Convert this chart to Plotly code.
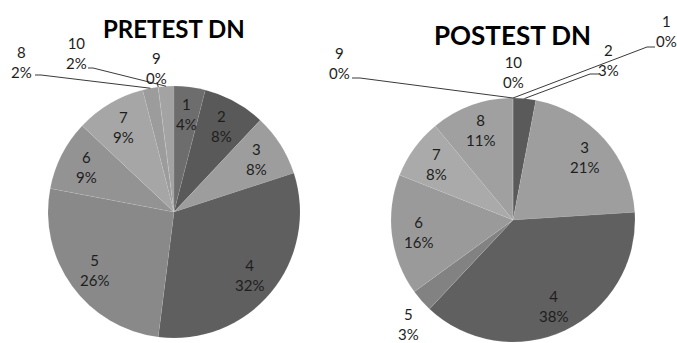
import math
import plotly.graph_objects as go

W, H = 677, 343

# Score categories and the share of students in each (percent)
categories = ["1", "2", "3", "4", "5", "6", "7", "8", "9", "10"]
pretest_pct = [4, 8, 8, 32, 26, 9, 9, 2, 0, 2]
postest_pct = [0, 3, 21, 38, 3, 16, 8, 11, 0, 0]

# Grey slice fills
pretest_colors = ["#6d6d6d", "#595959", "#9d9d9d", "#5f5f5f", "#898989",
                  "#939393", "#a6a6a6", "#9c9c9c", "#a0a0a0", "#a3a3a3"]
postest_colors = ["#6d6d6d", "#5a5a5a", "#9e9e9e", "#606060", "#828282",
                  "#9a9a9a", "#aaaaaa", "#a0a0a0", "#a0a0a0", "#a3a3a3"]

FONT = "Lato"
LABEL_SIZE = 15
LABEL_COLOR = "#1e1e1e"
LEADER_COLOR = "#3a3a3a"


def px(x):
    return x / W


def py(y):
    return 1 - y / H


def mid_angles(values):
    total = float(sum(values))
    out, cum = [], 0.0
    for v in values:
        out.append(2 * math.pi * (cum + v / 2.0) / total)
        cum += v
    return out


def polar(g, ang, frac):
    rr = g["r"] * frac
    return g["cx"] + rr * math.sin(ang), g["cy"] - rr * math.cos(ang)


def domain(g):
    return dict(x=[px(g["cx"] - g["r"]), px(g["cx"] + g["r"])],
                y=[py(g["cy"] + g["r"]), py(g["cy"] - g["r"])])


pre_geom = dict(cx=174, cy=212, r=126)
post_geom = dict(cx=513, cy=220, r=122)

# Labels that sit outside the pie: label centre (px) and leader path start
pre_outside = {
    "8": dict(at=(22, 62), leader=[(35, 75), (41, 75)]),
    "9": dict(at=(156, 68), leader=[(157, 82)]),
    "10": dict(at=(76, 53), leader=[(88, 68), (93, 68)]),
}
post_outside = {
    "1": dict(at=(666, 31), leader=[(655, 47), (647, 47)]),
    "2": dict(at=(608, 60), leader=[(599, 74), (590, 74)]),
    "5": dict(at=(409, 324), leader=None),
    "9": dict(at=(339, 63), leader=[(352, 78), (360, 78)]),
    "10": dict(at=(513, 72), leader=None),
}

fig = go.Figure()
annotations, shapes = [], []


def add_pie(values, colors, g, outside, title, title_xy, title_size):
    fig.add_trace(go.Pie(
        labels=categories, values=values, sort=False, direction="clockwise",
        rotation=0, textinfo="none", hoverinfo="label+percent",
        marker=dict(colors=colors,
                    line=dict(color="rgba(255,255,255,0.15)", width=0.5)),
        domain=domain(g), showlegend=False,
    ))
    angs = mid_angles(values)
    for cat, v, a in zip(categories, values, angs):
        text = f"{cat}<br>{v}%"
        if cat in outside:
            spec = outside[cat]
            lx, ly = spec["at"]
            if spec["leader"]:
                ex, ey = polar(g, a, 1.0)
                pts = spec["leader"] + [(ex, ey)]
                path = "M " + " L ".join(f"{px(x)},{py(y)}" for x, y in pts)
                shapes.append(dict(type="path", xref="paper", yref="paper",
                                   path=path,
                                   line=dict(color=LEADER_COLOR, width=1)))
        else:
            lx, ly = polar(g, a, 0.78)
        annotations.append(dict(
            x=px(lx), y=py(ly), xref="paper", yref="paper", text=text,
            showarrow=False, xanchor="center", yanchor="middle",
            font=dict(family=FONT, size=LABEL_SIZE, color=LABEL_COLOR)))
    annotations.append(dict(
        x=px(title_xy[0]), y=py(title_xy[1]), xref="paper", yref="paper",
        text=f"<b>{title}</b>", showarrow=False, xanchor="center",
        yanchor="middle",
        font=dict(family=FONT, size=title_size, color="#000000")))


add_pie(pretest_pct, pretest_colors, pre_geom, pre_outside,
        "PRETEST DN", (174, 29), 24)
add_pie(postest_pct, postest_colors, post_geom, post_outside,
        "POSTEST DN", (512, 35), 26)

fig.update_layout(
    width=W, height=H,
    margin=dict(l=0, r=0, t=0, b=0),
    paper_bgcolor="#ffffff", plot_bgcolor="#ffffff",
    annotations=annotations, shapes=shapes,
)

fig.write_html("out.html")
